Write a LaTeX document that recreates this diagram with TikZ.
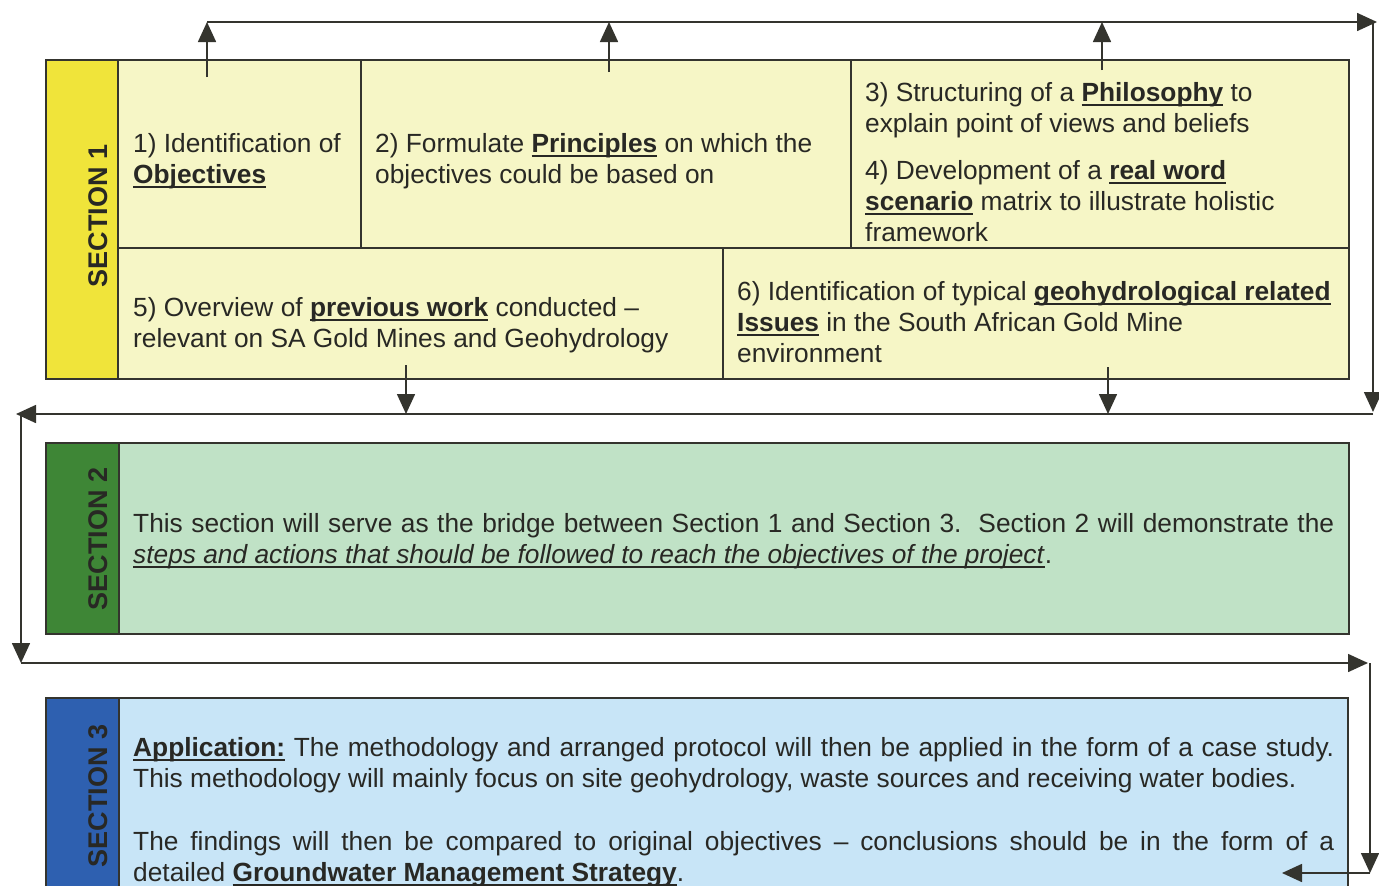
\documentclass[tikz,border=0pt]{standalone}
\usepackage{fontspec}
\setmainfont{Liberation Sans}
\usetikzlibrary{arrows.meta}
\definecolor{colYside}{RGB}{240,228,58}
\definecolor{colYbody}{RGB}{246,246,198}
\definecolor{colGside}{RGB}{62,134,54}
\definecolor{colGbody}{RGB}{192,226,198}
\definecolor{colBside}{RGB}{46,96,176}
\definecolor{colBbody}{RGB}{200,229,247}
\definecolor{ink}{RGB}{52,52,46}
\definecolor{txt}{RGB}{40,40,36}
\newsavebox\ulbox
\newcommand\ulx[1]{\sbox\ulbox{#1}\rlap{\rule[-0.2em]{\wd\ulbox}{0.08em}}\usebox\ulbox}
\begin{document}
\begin{tikzpicture}[x=1pt,y=-1pt,
  box/.style={draw=ink,line width=1.4pt},
  arr/.style={draw=ink,line width=1.6pt,-{Triangle[length=20pt,width=18pt]}},
  body/.style={anchor=base west,inner sep=0pt,align=left,text=txt,font=\fontsize{26.3}{31}\selectfont},
  sec/.style={rotate=90,inner sep=0pt,text=txt,font=\fontsize{27}{30}\selectfont\bfseries}]
\useasboundingbox (0,0) rectangle (1379,886);
\fill[white] (0,0) rectangle (1379,886);
% ---------- Section 1
\fill[colYbody] (118,60) rectangle (1349,379);
\fill[colYside] (46,60) rectangle (118,379);
\draw[box] (46,60) rectangle (1349,379);
\draw[box] (118,60) -- (118,379);
\draw[box] (118,248) -- (1349,248);
\draw[box] (361,60) -- (361,248);
\draw[box] (851,60) -- (851,248);
\draw[box] (723,248) -- (723,379);
\node[sec] (s1) at (98,216) {SECTION 1};
\node[body] (c1) at (133,183) {1) Identification of\\\ulx{\textbf{Objectives}}};
\node[body] (c2) at (375,183) {2) Formulate \ulx{\textbf{Principles}} on which the\\objectives could be based on};
\node[body] (c3) at (865,132) {3) Structuring of a \ulx{\textbf{Philosophy}} to\\explain point of views and beliefs};
\node[body] (c4) at (865,241) {4) Development of a \ulx{\textbf{real word}}\\\ulx{\textbf{scenario}} matrix to illustrate holistic\\framework};
\node[body] (c5) at (133,347) {5) Overview of \ulx{\textbf{previous work}} conducted –\\relevant on SA Gold Mines and Geohydrology};
\node[body] (c6) at (737,362) {6) Identification of typical \ulx{\textbf{geohydrological related}}\\\ulx{\textbf{Issues}} in the South African Gold Mine\\environment};
% ---------- Section 2
\fill[colGbody] (119,443) rectangle (1349,634);
\fill[colGside] (46,443) rectangle (119,634);
\draw[box] (46,443) rectangle (1349,634);
\draw[box] (119,443) -- (119,634);
\node[sec] (s2) at (98,539) {SECTION 2};
\node[body] (t2) at (133,563) {\makebox[1201pt][s]{This section will serve as the bridge between Section 1 and Section 3.\ \ Section 2 will demonstrate the}\\\ulx{\textit{steps and actions that should be followed to reach the objectives of the project}}.};
% ---------- Section 3
\fill[colBbody] (119,698) rectangle (1348,886);
\fill[colBside] (46,698) rectangle (119,886);
\draw[box] (46,886) -- (46,698) -- (1348,698) -- (1348,886);
\draw[box] (119,698) -- (119,886);
\node[sec] (s3) at (98,796) {SECTION 3};
\node[body] (t3a) at (133,787) {\makebox[1201pt][s]{\ulx{\textbf{Application:}} The methodology and arranged protocol will then be applied in the form of a case study.}\\This methodology will mainly focus on site geohydrology, waste sources and receiving water bodies.};
\node[body] (t3b) at (133,881) {\makebox[1201pt][s]{The findings will then be compared to original objectives – conclusions should be in the form of a}\\detailed \ulx{\textbf{Groundwater Management Strategy}}.};
% ---------- connectors
\coordinate (a1) at (207,77);  \coordinate (a1t) at (207,22);
\coordinate (a2) at (609,72);  \coordinate (a2t) at (609,22);
\coordinate (a3) at (1102,70); \coordinate (a3t) at (1102,22);
\coordinate (tr) at (1377,22);
\coordinate (rv) at (1373,22); \coordinate (rvb) at (1373,412);
\coordinate (d1) at (406,365); \coordinate (d1b) at (406,414);
\coordinate (d2) at (1108,367); \coordinate (d2b) at (1108,414);
\coordinate (mr) at (1373,414); \coordinate (ml) at (16,414);
\coordinate (lv) at (21,414); \coordinate (lvb) at (21,663);
\coordinate (br) at (1368,663);
\coordinate (rv2) at (1370,663); \coordinate (rv2b) at (1370,873);
\coordinate (bl) at (1282,873);
\draw[arr] (a1) -- (a1t);
\draw[arr] (a2) -- (a2t);
\draw[arr] (a3) -- (a3t);
\draw[arr] (a1t) -- (tr);
\draw[arr] (rv) -- (rvb);
\draw[arr] (d1) -- (d1b);
\draw[arr] (d2) -- (d2b);
\draw[arr] (mr) -- (ml);
\draw[arr] (lv) -- (lvb);
\draw[arr] (lvb) -- (br);
\draw[arr] (rv2) -- (rv2b);
\draw[arr] (rv2b) -- (bl);
\end{tikzpicture}
\end{document}
